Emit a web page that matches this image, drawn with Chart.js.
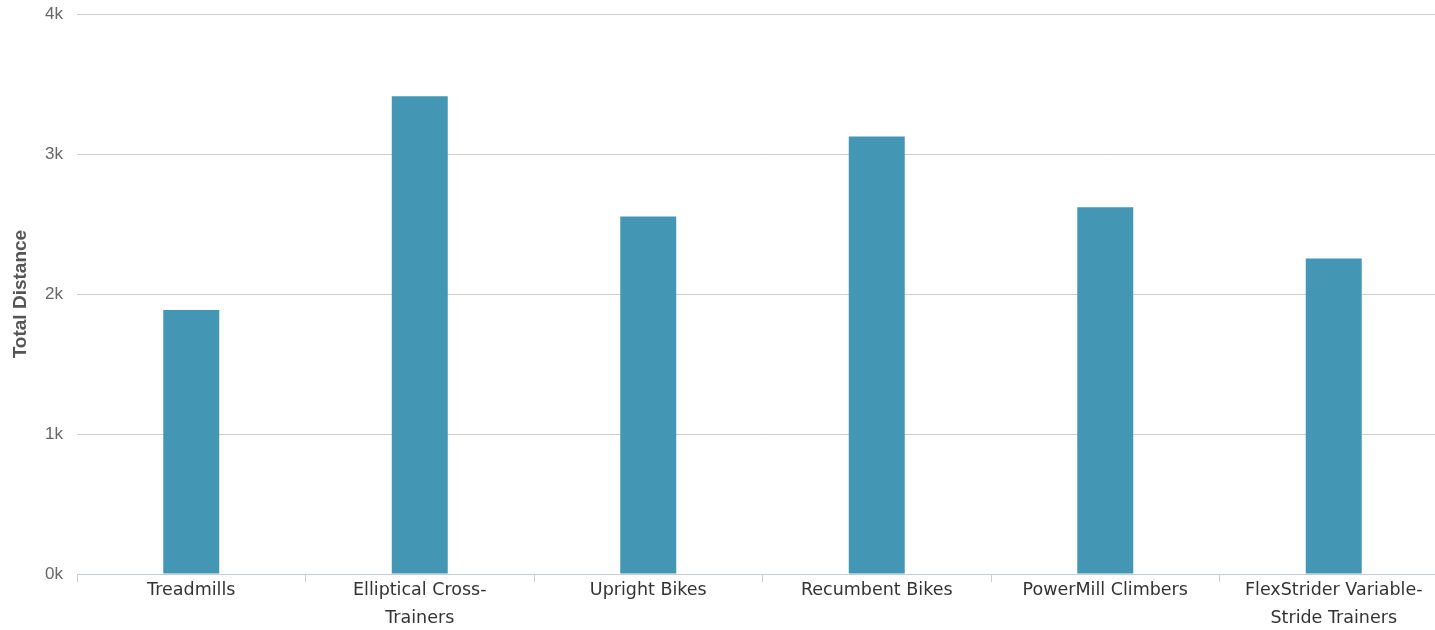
<!DOCTYPE html>
<html>
<head>
<meta charset="utf-8">
<script src="https://cdn.jsdelivr.net/npm/chart.js@4/dist/chart.umd.min.js"></script>
<style>
  html, body { margin: 0; padding: 0; background: #fff; overflow: hidden; }
  #wrap { width: 1450px; height: 630px; overflow: hidden; }
  #chart { display: block; margin-top: -10px; }
</style>
</head>
<body>
<div id="wrap"><canvas id="chart" width="1450" height="640"></canvas></div>
<script>
// Equipment categories (multi-line labels as wrapped on the axis)
const categories = [
  ['Treadmills'],
  ['Elliptical Cross-', 'Trainers'],
  ['Upright Bikes'],
  ['Recumbent Bikes'],
  ['PowerMill Climbers'],
  ['FlexStrider Variable-', 'Stride Trainers']
];
// Total distance per equipment type
const totalDistance = [1887, 3413, 2555, 3127, 2620, 2255];
// Y-axis tick values
const yTicks = [0, 1000, 2000, 3000, 4000];

const barColor = '#4396b4';
const gridColor = '#cccccc';
const axisColor = '#c4cedb';

new Chart(document.getElementById('chart'), {
  type: 'bar',
  data: {
    labels: categories,
    datasets: [{
      label: 'Total Distance',
      data: totalDistance,
      backgroundColor: barColor,
      borderWidth: 0,
      categoryPercentage: 1,
      barPercentage: 0.245
    }]
  },
  options: {
    responsive: false,
    animation: false,
    layout: { padding: { top: 4, right: 2, left: 0, bottom: 0 } },
    plugins: { legend: { display: false }, tooltip: { enabled: false } },
    scales: {
      x: {
        grid: {
          offset: true,
          drawOnChartArea: false,
          drawTicks: true,
          tickLength: 8,
          color: axisColor
        },
        border: { display: true, color: axisColor, width: 1 },
        ticks: {
          color: '#333',
          font: { family: 'DejaVu Sans', size: 17.5, lineHeight: 1.6 },
          padding: -6,
          maxRotation: 0,
          autoSkip: false
        },
        afterFit: (scale) => { scale.height = 56; }
      },
      y: {
        min: 0,
        max: 4000,
        afterBuildTicks: (scale) => { scale.ticks = yTicks.map(v => ({ value: v })); },
        grid: { color: gridColor, drawTicks: false, lineWidth: 1 },
        border: { display: false },
        ticks: {
          color: '#666',
          font: { family: 'Liberation Sans', size: 17 },
          padding: 14,
          callback: (v) => (v / 1000) + 'k'
        },
        title: {
          display: true,
          text: 'Total Distance',
          color: '#555',
          font: { family: 'Liberation Sans', size: 19, weight: 'bold', lineHeight: 1.2 },
          padding: { top: 9, bottom: 0 }
        },
        afterFit: (scale) => { scale.width = 77; }
      }
    }
  }
});
</script>
</body>
</html>
